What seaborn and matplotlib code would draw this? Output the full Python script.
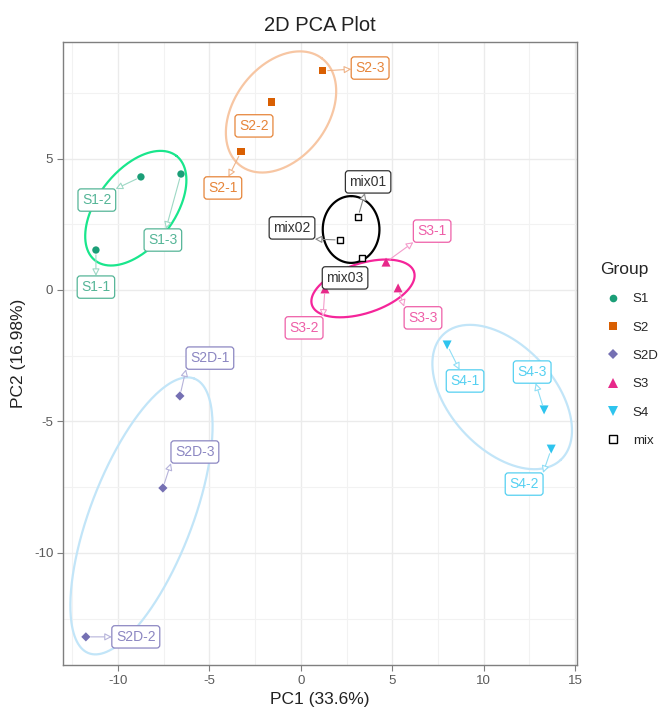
import numpy as np
import pandas as pd
import matplotlib
matplotlib.use("Agg")
import matplotlib.pyplot as plt
from matplotlib.lines import Line2D
from matplotlib.ticker import MultipleLocator
import seaborn as sns

# ---- PCA scores -------------------------------------------------------------
samples = ["S1-1", "S1-2", "S1-3",
           "S2-1", "S2-2", "S2-3",
           "S2D-1", "S2D-2", "S2D-3",
           "S3-1", "S3-2", "S3-3",
           "S4-1", "S4-2", "S4-3",
           "mix01", "mix02", "mix03"]
groups = ["S1"] * 3 + ["S2"] * 3 + ["S2D"] * 3 + ["S3"] * 3 + ["S4"] * 3 + ["mix"] * 3
pc1 = [-11.20, -8.74, -6.55,
       -3.27, -1.58, 1.21,
       -6.61, -11.75, -7.54,
       4.66, 1.32, 5.32,
       8.00, 13.69, 13.30,
       3.13, 2.14, 3.35]
pc2 = [1.52, 4.30, 4.41,
       5.25, 7.15, 8.33,
       -4.03, -13.19, -7.53,
       1.06, 0.04, 0.08,
       -2.09, -6.05, -4.56,
       2.78, 1.90, 1.22]

group_order = ["S1", "S2", "S2D", "S3", "S4", "mix"]

# group ellipses: centre and two conjugate half-axis vectors (data units)
ellipse_center = {"S1": (-9.02, 3.11), "S2": (-1.08, 6.77), "S2D": (-8.71, -8.59),
                  "S3": (3.40, 0.06), "S4": (11.01, -4.07), "mix": (2.75, 2.30)}
ellipse_axis_a = {"S1": (2.22, 1.99), "S2": (2.23, 2.04), "S2D": (2.89, 5.22),
                  "S3": (2.79, 0.63), "S4": (3.20, -2.39), "mix": (0.0, 1.27)}
ellipse_axis_b = {"S1": (1.65, -0.89), "S2": (2.03, -1.07), "S2D": (2.60, -0.70),
                  "S3": (0.42, -0.90), "S4": (2.08, 1.35), "mix": (1.55, 0.0)}

# repelled label positions (data units)
label_pos = {"S1-1": (-11.20, 0.11), "S1-2": (-11.15, 3.42), "S1-3": (-7.54, 1.90),
             "S2-1": (-4.26, 3.88), "S2-2": (-2.56, 6.24), "S2-3": (3.79, 8.44),
             "S2D-1": (-4.97, -2.59), "S2D-2": (-9.02, -13.19), "S2D-3": (-5.79, -6.16),
             "S3-1": (7.18, 2.24), "S3-2": (0.18, -1.44), "S3-3": (6.68, -1.06),
             "S4-1": (8.98, -3.46), "S4-2": (12.21, -7.38), "S4-3": (12.65, -3.12),
             "mix01": (3.68, 4.11), "mix02": (-0.48, 2.36), "mix03": (2.42, 0.46)}

# ---- styles -----------------------------------------------------------------
point_colors = {"S1": "#1B9E77", "S2": "#D95F02", "S2D": "#7570B3",
                "S3": "#E7298A", "S4": "#2EC4EE", "mix": "#000000"}
label_colors = {"S1": "#55B597", "S2": "#E6853A", "S2D": "#8C87C2",
                "S3": "#EE5FA8", "S4": "#55D0F1", "mix": "#333333"}
line_colors = {"S1": "#9ED8C5", "S2": "#EFB489", "S2D": "#B6B3DA",
               "S3": "#F49CCB", "S4": "#8FDEF5", "mix": "#8A8A8A"}
ellipse_colors = {"S1": "#19E68C", "S2": "#F7C6A3", "S2D": "#C2E5F8",
                  "S3": "#F5259A", "S4": "#C2E5F8", "mix": "#000000"}
markers = {"S1": "o", "S2": "s", "S2D": "D", "S3": "^", "S4": "v", "mix": "s"}
sizes = {"S1": 28, "S2": 26, "S2D": 22, "S3": 42, "S4": 42, "mix": 24}

df = pd.DataFrame({"sample": samples, "group": groups, "PC1": pc1, "PC2": pc2})

sns.set_theme(style="whitegrid")
plt.rcParams["font.family"] = ["Liberation Sans", "DejaVu Sans"]
plt.rcParams["axes.unicode_minus"] = False

fig = plt.figure(figsize=(6.62, 7.09), dpi=100)
ax = fig.add_axes([63 / 662, 1 - 665 / 709, 514 / 662, 623 / 709])

ax.set_xlim(-13.0, 15.1)
ax.set_ylim(-14.26, 9.43)
ax.xaxis.set_major_locator(MultipleLocator(5))
ax.yaxis.set_major_locator(MultipleLocator(5))
ax.xaxis.set_minor_locator(MultipleLocator(2.5))
ax.yaxis.set_minor_locator(MultipleLocator(2.5))
ax.grid(which="major", color="#EBEBEB", lw=1.0)
ax.grid(which="minor", color="#F2F2F2", lw=0.8)
ax.set_axisbelow(True)
ax.set_facecolor("white")
for sp in ax.spines.values():
    sp.set_color("#7F7F7F")
    sp.set_linewidth(1.0)
ax.tick_params(axis="both", which="major", direction="out", length=4, width=0.8,
               color="#7F7F7F", labelsize=9.5, labelcolor="#5A5A5A", pad=3,
               bottom=True, left=True)
ax.tick_params(axis="both", which="minor", length=0)

# ellipses
t = np.linspace(0, 2 * np.pi, 300)
for g in group_order:
    cx, cy = ellipse_center[g]
    ax_, ay_ = ellipse_axis_a[g]
    bx_, by_ = ellipse_axis_b[g]
    ex = cx + ax_ * np.cos(t) + bx_ * np.sin(t)
    ey = cy + ay_ * np.cos(t) + by_ * np.sin(t)
    ax.plot(ex, ey, color=ellipse_colors[g], lw=1.6, zorder=2)

# points
filled = df[df["group"] != "mix"]
sns.scatterplot(data=filled, x="PC1", y="PC2", hue="group", style="group",
                hue_order=group_order[:-1], style_order=group_order[:-1],
                palette=point_colors, markers=markers, size="group",
                sizes=sizes, linewidth=0, legend=False, ax=ax, zorder=4)
mix = df[df["group"] == "mix"]
ax.scatter(mix["PC1"], mix["PC2"], marker="s", s=24, facecolors="white",
           edgecolors="black", linewidths=1.0, zorder=4)

# sample labels
texts = []
for _, r in df.iterrows():
    g = r["group"]
    lx, ly = label_pos[r["sample"]]
    txt = ax.text(lx, ly, r["sample"], ha="center", va="center", fontsize=10,
                  color=label_colors[g], zorder=6,
                  bbox=dict(boxstyle="round,pad=0.3,rounding_size=0.22",
                            fc="white", ec=label_colors[g], lw=0.9))
    texts.append(txt)


def segment_end(p, c, box):
    """Point where the connector meets the label box: intersect the line
    point->box centre with each box edge (ahead of the point only), clamp
    onto the box and keep the one closest to the point."""
    x0, y0, x1, y1 = box
    d = c - p
    best, best_d = None, np.inf
    for axis, edge in ((0, x0), (0, x1), (1, y0), (1, y1)):
        if abs(d[axis]) < 1e-9:
            continue
        tt = (edge - p[axis]) / d[axis]
        if tt < 0:
            continue
        q = p + tt * d
        q = np.array([min(max(q[0], x0), x1), min(max(q[1], y0), y1)])
        dist = np.hypot(*(q - p))
        if dist < best_d:
            best, best_d = q, dist
    return best, best_d


# connectors from each point to its label box
fig.canvas.draw()
renderer = fig.canvas.get_renderer()
to_data = ax.transData.inverted()
for txt, (_, r) in zip(texts, df.iterrows()):
    g = r["group"]
    bb = txt.get_bbox_patch().get_window_extent(renderer)
    p = np.array(ax.transData.transform((r["PC1"], r["PC2"])))
    c = np.array([(bb.x0 + bb.x1) / 2, (bb.y0 + bb.y1) / 2])
    end, dist = segment_end(p, c, (bb.x0, bb.y0, bb.x1, bb.y1))
    if end is None or dist < 19:
        continue
    end = to_data.transform(end)
    ax.annotate("", xy=tuple(end), xytext=(r["PC1"], r["PC2"]),
                arrowprops=dict(arrowstyle="-|>,head_length=0.35,head_width=0.18",
                                ec=line_colors[g], fc="white", lw=0.8,
                                shrinkA=3.5, shrinkB=0),
                zorder=5)

ax.set_xlabel("PC1 (33.6%)", fontsize=12.5, color="#222222", labelpad=4)
ax.set_ylabel("PC2 (16.98%)", fontsize=12.5, color="#222222", labelpad=6)
ax.set_title("2D PCA Plot", fontsize=14.5, color="#222222", pad=8)

handles = [Line2D([0], [0], marker=markers[g], ls="",
                  mfc=("white" if g == "mix" else point_colors[g]),
                  mec=point_colors[g], mew=(1.0 if g == "mix" else 0),
                  ms=(6.5 if g in ("S3", "S4") else 5.5))
           for g in group_order]
fig.legend(handles, group_order, title="Group", loc="upper left",
           bbox_to_anchor=(588 / 662, 1 - 250 / 709), frameon=False,
           fontsize=9.5, title_fontsize=12.5, labelspacing=1.22,
           handletextpad=0.5, alignment="left")

fig.savefig("out.png", dpi=100, facecolor="white")
